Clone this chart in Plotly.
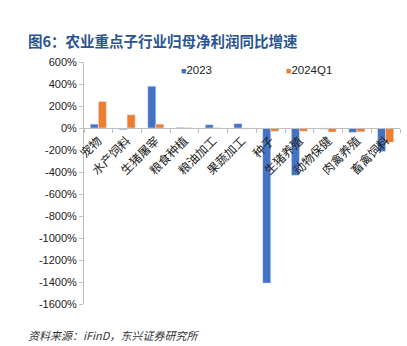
import plotly.graph_objects as go

categories = ['宠物', '水产饲料', '生猪屠宰', '粮食种植', '粮油加工', '果蔬加工',
              '种子', '生猪养殖', '动物保健', '肉禽养殖', '畜禽饲料']
v2023 = [35, -15, 380, 5, 30, 40, -1410, -430, -10, -40, -213]
v2024q1 = [240, 120, 35, 3, 2, -10, -30, -30, -37, -35, -130]
series_names = ['2023', '2024Q1']
y_ticks = list(range(-1600, 601, 200))
y_tick_labels = [f'{v}%' for v in y_ticks]

BLUE = '#4472C4'
ORANGE = '#ED7D31'
FONT = 'Liberation Sans, Noto Sans CJK SC, sans-serif'

ymin, ymax = -1600, 600
zero_frac = (0 - ymin) / (ymax - ymin)

fig = go.Figure()
fig.add_trace(go.Bar(x=categories, y=v2023, name=series_names[0], marker_color=BLUE))
fig.add_trace(go.Bar(x=categories, y=v2024q1, name=series_names[1], marker_color=ORANGE))

fig.update_layout(
    width=407, height=346,
    margin=dict(l=84, r=7, t=62, b=42),
    paper_bgcolor='white', plot_bgcolor='white',
    barmode='group', bargap=0.44, bargroupgap=0,
    showlegend=False,
    font=dict(family=FONT, size=11, color='#222'),
    xaxis=dict(
        anchor='free', position=zero_frac,
        showline=True, linecolor='#BFBFBF', linewidth=1,
        ticks='outside', tickson='boundaries', ticklen=4, tickcolor='#BFBFBF',
        tickangle=-45, tickfont=dict(size=12, family='Noto Sans CJK SC', color='#222'),
        showgrid=False, zeroline=False,
    ),
    yaxis=dict(
        range=[ymin, ymax], tickmode='array', tickvals=y_ticks, ticktext=y_tick_labels,
        showline=True, linecolor='#BFBFBF', linewidth=1,
        ticks='outside', ticklen=4, tickcolor='#BFBFBF',
        showgrid=False, zeroline=False,
        tickfont=dict(size=11, color='#222'),
    ),
)

fig.add_annotation(
    text='<b>图6：农业重点子行业归母净利润同比增速</b>',
    xref='paper', yref='paper', x=-58/316, y=1 + 22/242, xanchor='left', yanchor='middle',
    showarrow=False, font=dict(size=14.5, color='#2A5590', family='Noto Sans CJK SC, sans-serif'),
)
fig.add_annotation(
    text='<i>资料来源：iFinD，东兴证券研究所</i>',
    xref='paper', yref='paper', x=-58/316, y=-31/242, xanchor='left', yanchor='middle',
    showarrow=False, font=dict(size=11, color='#333', family='Noto Sans CJK SC, sans-serif'),
)
for name, color, xpx in [(series_names[0], BLUE, 179), (series_names[1], ORANGE, 284)]:
    fig.add_annotation(
        text=f"<span style='color:{color};font-size:9px'>■</span>{name}",
        xref='paper', yref='paper', x=(xpx - 84) / 316, y=1 - 8/242,
        xanchor='left', yanchor='middle', showarrow=False,
        font=dict(size=11.5, color='#222', family=FONT),
    )

fig.write_html('out.html')
